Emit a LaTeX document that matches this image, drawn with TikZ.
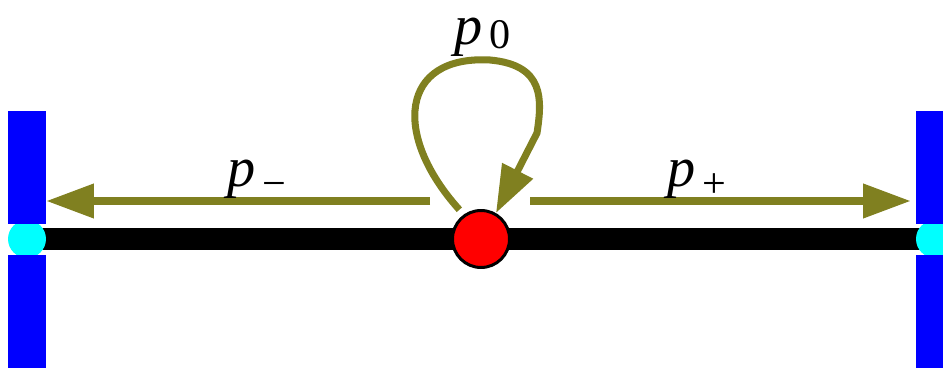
\documentclass[tikz,border=0pt]{standalone}
\usepackage{fontspec}
\setmainfont{Liberation Serif}
\definecolor{jumpolive}{RGB}{128,128,32}
\definecolor{holecyan}{RGB}{0,255,255}
\definecolor{wallblue}{RGB}{0,0,255}
\definecolor{ballred}{RGB}{255,0,0}
\usetikzlibrary{arrows.meta}
\newcommand{\lblsub}[2][-6pt]{\hspace{4pt}\raisebox{#1}{\fontsize{24}{24}\selectfont\upshape #2}}

\begin{document}
\begin{tikzpicture}[x=0.02cm,y=-0.02cm,
  rod/.style={line width=0.44cm,black},
  hole/.style={circle,fill=holecyan,inner sep=0pt,minimum size=0.76cm},
  wall/.style={fill=wallblue,inner sep=0pt,minimum width=0.76cm,minimum height=2.26cm},
  ball/.style={circle,fill=ballred,draw=black,line width=1.7pt,inner sep=0pt,minimum size=1.14cm},
  jump/.style={draw=jumpolive,line width=4pt,-{Triangle[length=0.95cm,width=0.66cm]}},
  lbl/.style={font=\fontsize{32}{32}\selectfont\itshape,inner sep=0pt,anchor=base west}
]
  \useasboundingbox (0,0) rectangle (943,371);
  \clip (0,0) rectangle (943,371);
  % the rod and its two ends
  \coordinate (endL) at (27,239);
  \coordinate (endR) at (935,239);
  \draw[rod] (endL) -- (endR);
  \node[hole] (holeL) at (endL) {};
  \node[hole] (holeR) at (endR) {};
  \node[wall] (wallLup) at (27,167.5) {};
  \node[wall] (wallLdn) at (27,311.5) {};
  \node[wall] (wallRup) at (935,167.5) {};
  \node[wall] (wallRdn) at (935,311.5) {};
  \node[ball] (ball) at (481,239) {};
  % jumps
  \coordinate (startL) at (430,201);
  \coordinate (startR) at (530,201);
  \draw[jump] (startL) -- (startL -| wallLup.east);
  \draw[jump,shorten >=0.1cm] (startR) -- (startR -| wallRup.west);
  \draw[jump] ([shift={(-4,-5)}]ball.126) .. controls (392,135) and (400,55) .. (490,60)
    .. controls (545,65) and (542,100) .. (537,133) -- (ball.60);
  % labels
  \node[lbl] (pminus) at (227,187) {p\lblsub{−}};
  \node[lbl] (pplus) at (667,187) {p\lblsub{+}};
  \node[lbl] (pzero) at (454,45) {p\lblsub[-2pt]{0}};
\end{tikzpicture}
\end{document}
